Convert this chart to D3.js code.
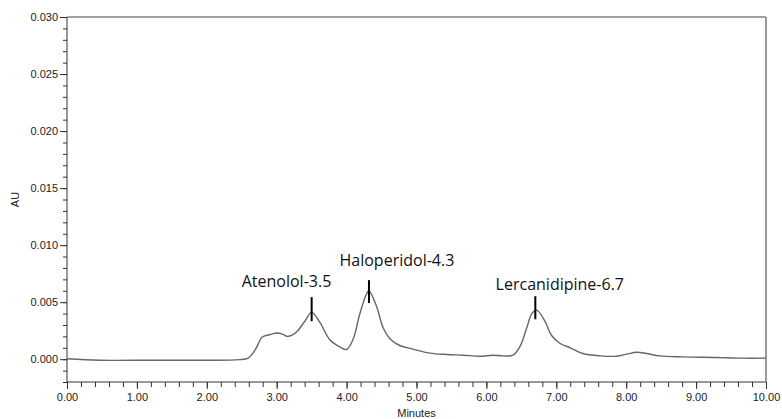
<!DOCTYPE html>
<html>
<head>
<meta charset="utf-8">
<script src="https://cdn.jsdelivr.net/npm/d3@7"></script>
<style>
	body { margin: 0; background: #fff; }
	svg { display: block; }
	.tick-label { font-family: 'Liberation Sans', Arial, sans-serif; font-size: 11px; fill: #222; }
	.peak-label { font-family: 'Open Sans', 'Noto Sans', sans-serif; font-size: 16px; fill: #111; }
</style>
</head>
<body>
<svg id="chart-svg" width="782" height="419"></svg>
<script>
// chromatogram trace
const times = [0, 0.47, 1.19, 1.90, 2.47, 2.59, 2.69, 2.79, 2.86, 2.93, 3.00, 3.08, 3.15, 3.22, 3.30, 3.40, 3.50,
	3.62, 3.76, 3.91, 4.00, 4.09, 4.19, 4.29, 4.32, 4.43, 4.52, 4.62, 4.76, 4.95, 5.19, 5.44, 5.67, 5.91, 6.09,
	6.24, 6.38, 6.48, 6.58, 6.65, 6.72, 6.84, 6.93, 7.05, 7.20, 7.38, 7.63, 7.86, 8.01, 8.15, 8.29, 8.48, 8.81,
	9.29, 9.63, 10.0];
const absorb = [0.00004, -0.00009, -0.00009, -0.00009, -0.00004, 0.00009, 0.00079, 0.00193, 0.0021, 0.0022, 0.0023,
	0.0022, 0.0020, 0.0021, 0.0025, 0.0033, 0.0041, 0.0032, 0.0017, 0.00105, 0.00085, 0.0017, 0.0040, 0.0058, 0.0060,
	0.0046, 0.0028, 0.0018, 0.0012, 0.00088, 0.00053, 0.00041, 0.00035, 0.00026, 0.00035, 0.00029, 0.00035, 0.0011,
	0.0028, 0.0040, 0.0043, 0.0033, 0.0021, 0.0014, 0.0010, 0.0005, 0.00029, 0.00026, 0.00044, 0.00061, 0.0005,
	0.00029, 0.0002, 0.00015, 0.00009, 0.00009];

// peak annotations
const peakNames = ['Atenolol-3.5', 'Haloperidol-4.3', 'Lercanidipine-6.7'];
const peakTimes = [3.5, 4.32, 6.7];
const markTop = [0.00544, 0.00693, 0.00552];
const markBottom = [0.00333, 0.00492, 0.0035];
const labelTimes = [3.14, 4.72, 7.05];
const labelAU = [0.00631, 0.00816, 0.00605];

// axes
const xMajor = d3.range(0, 10.001, 1);
const xMinor = d3.range(0, 10.001, 0.2);
const yMajor = [0, 0.005, 0.010, 0.015, 0.020, 0.025, 0.030];
const yMinor = d3.range(-0.002, 0.0305, 0.001);

const svg = d3.select('#chart-svg');
const plotLeft = 67, plotRight = 766, plotTop = 17, plotBottom = 382;

const x = d3.scaleLinear().domain([0, 10]).range([plotLeft, plotRight]);
const y = d3.scaleLinear().domain([-0.002, 0.030]).range([plotBottom, plotTop]);

// minor ticks
svg.append('g').attr('transform', 'translate(0,' + plotBottom + ')')
	.call(d3.axisBottom(x).tickValues(xMinor).tickSize(5).tickFormat(''))
	.call((g) => g.select('.domain').remove())
	.selectAll('line').attr('stroke', '#333');
svg.append('g').attr('transform', 'translate(' + plotLeft + ',0)')
	.call(d3.axisLeft(y).tickValues(yMinor).tickSize(4).tickFormat(''))
	.call((g) => g.select('.domain').remove())
	.selectAll('line').attr('stroke', '#333');

// major ticks + labels
let xAxis = svg.append('g').attr('transform', 'translate(0,' + plotBottom + ')')
	.call(d3.axisBottom(x).tickValues(xMajor).tickSize(7).tickPadding(4).tickFormat(d3.format('.2f')));
xAxis.select('.domain').remove();
xAxis.selectAll('line').attr('stroke', '#333');
xAxis.selectAll('text').attr('class', 'tick-label').attr('font-family', null).attr('font-size', null).attr('fill', null);

let yAxis = svg.append('g').attr('transform', 'translate(' + plotLeft + ',0)')
	.call(d3.axisLeft(y).tickValues(yMajor).tickSize(7).tickPadding(2).tickFormat(d3.format('.3f')));
yAxis.select('.domain').remove();
yAxis.selectAll('line').attr('stroke', '#333');
yAxis.selectAll('text').attr('class', 'tick-label').attr('font-family', null).attr('font-size', null).attr('fill', null);

// frame
svg.append('line').attr('x1', plotLeft).attr('x2', plotLeft).attr('y1', plotTop).attr('y2', plotBottom + 0.5).attr('stroke', '#333');
svg.append('line').attr('x1', plotLeft).attr('x2', plotRight).attr('y1', plotBottom).attr('y2', plotBottom).attr('stroke', '#333');
svg.append('line').attr('x1', plotLeft).attr('x2', plotRight).attr('y1', plotTop).attr('y2', plotTop).attr('stroke', '#444');
svg.append('line').attr('x1', plotRight).attr('x2', plotRight).attr('y1', plotTop).attr('y2', plotBottom).attr('stroke', '#999').attr('stroke-width', 2);

// axis titles
svg.append('text').attr('class', 'tick-label').attr('transform', 'translate(19,' + ((plotTop + plotBottom) / 2) + ') rotate(-90)')
	.attr('text-anchor', 'middle').text('AU');
svg.append('text').attr('class', 'tick-label').attr('x', (plotLeft + plotRight) / 2).attr('y', 417)
	.attr('text-anchor', 'middle').text('Minutes');

// trace
const line = d3.line().x((d) => x(d[0])).y((d) => y(d[1])).curve(d3.curveCatmullRom.alpha(0.5));
svg.append('path')
	.datum(times.map((t, i) => [t, absorb[i]]))
	.attr('d', line)
	.attr('fill', 'none')
	.attr('stroke', '#666')
	.attr('stroke-width', 1.4);

// peak markers and labels
peakNames.forEach((name, i) => {
	svg.append('line')
		.attr('x1', x(peakTimes[i])).attr('x2', x(peakTimes[i]))
		.attr('y1', y(markTop[i])).attr('y2', y(markBottom[i]))
		.attr('stroke', '#000').attr('stroke-width', 2);
	svg.append('text').attr('class', 'peak-label')
		.attr('x', x(labelTimes[i])).attr('y', y(labelAU[i]))
		.attr('text-anchor', 'middle').text(name);
});
</script>
</body>
</html>
